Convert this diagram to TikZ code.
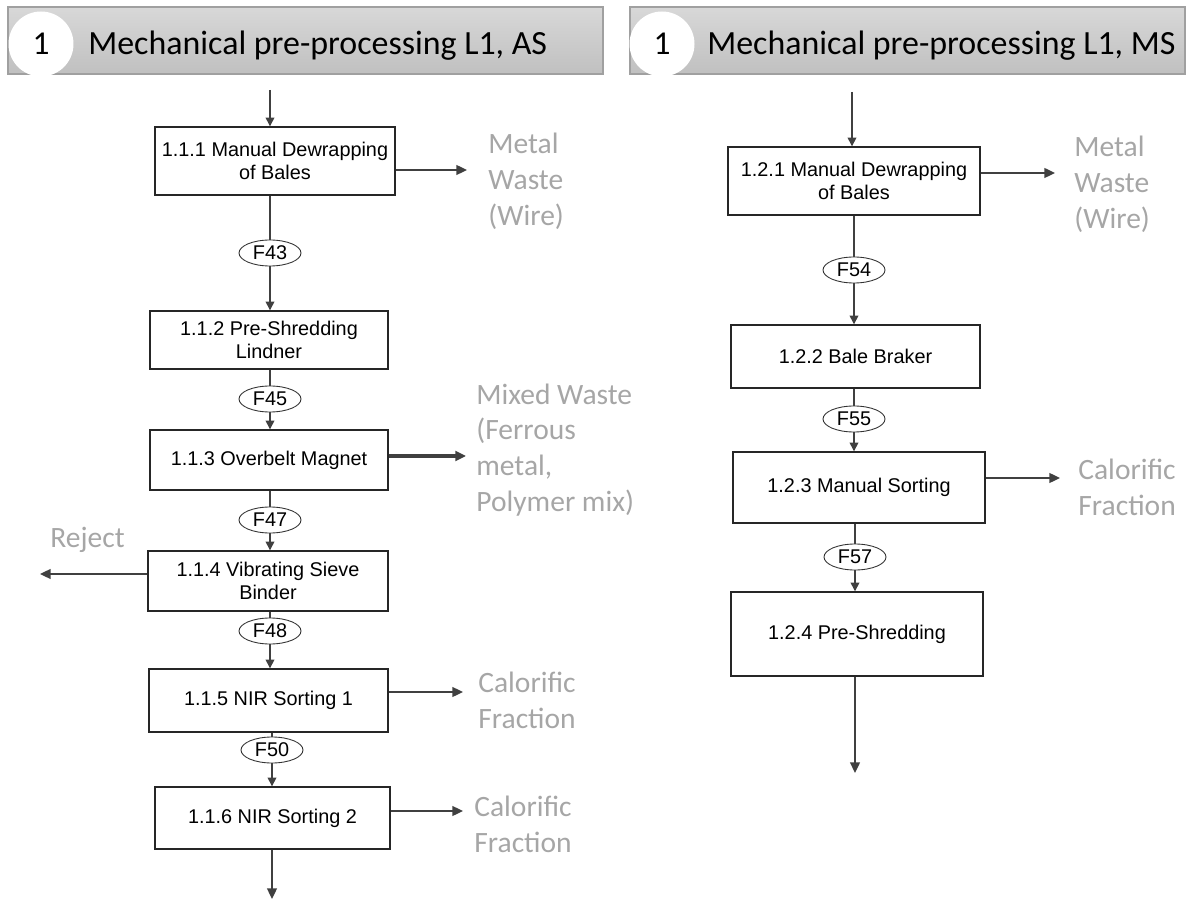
\documentclass[tikz,border=0pt]{standalone}
\usepackage{fontspec}
\setmainfont{Liberation Sans}
\newfontfamily\calfont{Carlito}
\usetikzlibrary{arrows.meta,shapes.geometric}
\definecolor{labgray}{HTML}{A6A6A6}
\definecolor{linegray}{HTML}{404040}
\definecolor{headtop}{HTML}{D8D8D8}
\definecolor{headbot}{HTML}{C0C0C0}
\definecolor{headedge}{HTML}{A0A0A0}
\begin{document}
\begin{tikzpicture}[x=0.02cm,y=-0.02cm,
  stepbox/.style={draw=black!85,line width=0.8pt,fill=white,align=center,
    font=\fontsize{11.3}{13}\selectfont,inner sep=2pt},
  flowtag/.style={ellipse,draw=black!80,line width=0.5pt,fill=white,
    minimum width=1.24cm,minimum height=0.52cm,inner sep=0pt,
    font=\fontsize{11.3}{13}\selectfont},
  flow/.style={draw=linegray,line width=0.8pt,-{Triangle[length=5pt,width=5pt]}},
  plain/.style={draw=linegray,line width=0.8pt},
  side/.style={draw=linegray,line width=1.1pt,-{Triangle[length=6pt,width=5.5pt]}},
  outlabel/.style={text=labgray,align=left,anchor=west,inner sep=0pt,
    font=\calfont\fontsize{16.8}{20.4}\selectfont},
  header/.style={draw=headedge,line width=0.6pt,top color=headtop,bottom color=headbot},
  headtext/.style={anchor=west,inner sep=0pt,font=\calfont\fontsize{19.3}{22}\selectfont},
  badge/.style={circle,fill=white,minimum size=1.3cm,inner sep=0pt,
    font=\calfont\fontsize{19}{22}\selectfont}]
\useasboundingbox (0,0) rectangle (1192,901);

% ---------- headers ----------
\path[header] (8,7) rectangle (603,74);
\node[badge] (hl) at (41,44) {1};
\node[headtext] (htl) at (88,46) {Mechanical pre-processing L1, AS};
\path[header] (630,7) rectangle (1185,74);
\node[badge] (hr) at (662,44) {1};
\node[headtext] (htr) at (707,46) {Mechanical pre-processing L1, MS};

% ---------- left line: L1, AS ----------
\node[stepbox,minimum width=4.8cm,minimum height=1.36cm] (b111) at (275,161)
  {1.1.1 Manual Dewrapping\\of Bales};
\node[stepbox,minimum width=4.76cm,minimum height=1.16cm] (b112) at (269,340)
  {1.1.2 Pre-Shredding\\Lindner};
\node[stepbox,minimum width=4.76cm,minimum height=1.2cm] (b113) at (269,460)
  {1.1.3 Overbelt Magnet};
\node[stepbox,minimum width=4.8cm,minimum height=1.2cm] (b114) at (268,581)
  {1.1.4 Vibrating Sieve\\Binder};
\node[stepbox,minimum width=4.78cm,minimum height=1.26cm] (b115) at (268.5,700.5)
  {1.1.5 NIR Sorting 1};
\node[stepbox,minimum width=4.7cm,minimum height=1.24cm] (b116) at (272.5,818)
  {1.1.6 NIR Sorting 2};

\node[flowtag] (f43) at (270,253) {F43};
\node[flowtag] (f45) at (270,399) {F45};
\node[flowtag] (f47) at (270,520) {F47};
\node[flowtag] (f48) at (270,631) {F48};
\node[flowtag] (f50) at (272,750) {F50};

\coordinate (inL) at (270,90);
\coordinate (outL) at (272,899);
\draw[flow] (inL) -- (inL |- b111.north);
\draw[plain] (f43 |- b111.south) -- (f43);
\draw[flow] (f43) -- (f43 |- b112.north);
\draw[plain] (f45 |- b112.south) -- (f45);
\draw[flow] (f45) -- (f45 |- b113.north);
\draw[plain] (f47 |- b113.south) -- (f47);
\draw[flow] (f47) -- (f47 |- b114.north);
\draw[plain] (f48 |- b114.south) -- (f48);
\draw[flow] (f48) -- (f48 |- b115.north);
\draw[plain] (f50 |- b115.south) -- (f50);
\draw[flow] (f50) -- (f50 |- b116.north);
\draw[side] (outL |- b116.south) -- (outL);

\coordinate (s111) at (467,170);
\coordinate (s113) at (466,456);
\coordinate (s114) at (40,574);
\coordinate (s115) at (463,692);
\coordinate (s116) at (463,811);
\draw[side] (b111.east |- s111) -- (s111);
\draw[side,line width=1.8pt] (b113.east |- s113) -- (s113);
\draw[side] (b114.west |- s114) -- (s114);
\draw[side] (b115.east |- s115) -- (s115);
\draw[side] (b116.east |- s116) -- (s116);

\node[outlabel] (l111) at (488,181) {Metal\\Waste\\(Wire)};
\node[outlabel] (l113) at (476,450) {Mixed Waste\\(Ferrous\\metal,\\Polymer mix)};
\node[outlabel] (l114) at (50,540) {Reject};
\node[outlabel] (l115) at (478,700) {Calorific\\Fraction};
\node[outlabel] (l116) at (474,824) {Calorific\\Fraction};

% ---------- right line: L1, MS ----------
\node[stepbox,minimum width=5.04cm,minimum height=1.36cm] (b121) at (854,181)
  {1.2.1 Manual Dewrapping\\of Bales};
\node[stepbox,minimum width=4.98cm,minimum height=1.26cm] (b122) at (855.5,356.5)
  {1.2.2 Bale Braker};
\node[stepbox,minimum width=5.04cm,minimum height=1.42cm] (b123) at (859,487.5)
  {1.2.3 Manual Sorting};
\node[stepbox,minimum width=5.04cm,minimum height=1.68cm] (b124) at (857,634)
  {1.2.4 Pre-Shredding};

\node[flowtag] (f54) at (854,270) {F54};
\node[flowtag] (f55) at (854,419) {F55};
\node[flowtag] (f57) at (855,557) {F57};

\coordinate (inR) at (852,92);
\coordinate (outR) at (855,773);
\draw[flow] (inR) -- (inR |- b121.north);
\draw[plain] (f54 |- b121.south) -- (f54);
\draw[flow] (f54) -- (f54 |- b122.north);
\draw[plain] (f55 |- b122.south) -- (f55);
\draw[flow] (f55) -- (f55 |- b123.north);
\draw[plain] (f57 |- b123.south) -- (f57);
\draw[flow] (f57) -- (f57 |- b124.north);
\draw[side] (outR |- b124.south) -- (outR);

\coordinate (s121) at (1055,173);
\coordinate (s123) at (1060,478);
\draw[side] (b121.east |- s121) -- (s121);
\draw[side] (b123.east |- s123) -- (s123);

\node[outlabel] (l121) at (1074,184) {Metal\\Waste\\(Wire)};
\node[outlabel] (l123) at (1078,487.5) {Calorific\\Fraction};
\end{tikzpicture}
\end{document}
